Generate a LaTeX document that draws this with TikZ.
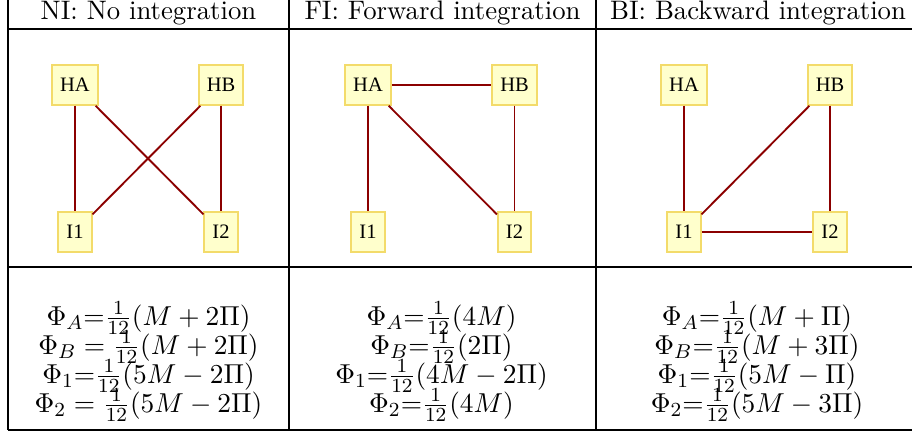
\documentclass[tikz,border=0pt]{standalone}
\usepackage{amsmath}
\usepackage{fontspec}
\newfontfamily\nodeserif{Liberation Serif}
\definecolor{nodefill}{HTML}{FFFFCC}
\definecolor{nodedraw}{HTML}{F3DB6A}
\definecolor{edgered}{HTML}{8B0000}
\newcommand{\hdrfont}{\fontsize{10.7}{12}\selectfont}
\newcommand{\frmfont}{\fontsize{11}{12}\selectfont}
\begin{document}
\begin{tikzpicture}[x=0.4pt,y=-0.4pt,
  rule/.style={line width=0.75pt,black},
  hdr/.style={anchor=base,inner sep=0pt,font=\hdrfont},
  frm/.style={anchor=base,inner sep=0pt,font=\frmfont},
  gnode/.style={draw=nodedraw,fill=nodefill,line width=0.8pt,
    font=\nodeserif\fontsize{8.2}{9}\selectfont,
    minimum height=15.8pt,inner xsep=3.2pt,inner ysep=0pt},
  edge/.style={draw=edgered,line width=0.75pt}]
\useasboundingbox (0,0) rectangle (912,432);
\clip (0,0) rectangle (912,432);
% table rules
\draw[rule] (8,0) -- (8,430);
\draw[rule] (289,0) -- (289,430);
\draw[rule] (596,0) -- (596,430);
\draw[rule] (920,0) -- (920,430);
\draw[rule] (8,29.3) -- (920,29.3);
\draw[rule] (8,266.7) -- (920,266.7);
\draw[rule] (8,430) -- (920,430);
% headers
\node[hdr] (h1) at (148.5,20) {NI: No integration};
\node[hdr] (h2) at (442.5,20) {FI: Forward integration};
\node[hdr] (h3) at (758,20) {BI: Backward integration};
% panel 1: NI
\node[gnode] (a1) at (75,85) {HA};
\node[gnode] (b1) at (221,85) {HB};
\node[gnode] (c1) at (75,232) {I1};
\node[gnode] (d1) at (221,232) {I2};
\draw[edge] (a1) -- (c1);
\draw[edge] (a1) -- (d1);
\draw[edge] (b1) -- (c1);
\draw[edge] (b1) -- (d1);
% panel 2: FI
\node[gnode] (a2) at (368,85) {HA};
\node[gnode] (b2) at (514.5,85) {HB};
\node[gnode] (c2) at (368,232) {I1};
\node[gnode] (d2) at (514.5,232) {I2};
\draw[edge] (a2) -- (b2);
\draw[edge] (a2) -- (c2);
\draw[edge] (a2) -- (d2);
\draw[edge] (b2) -- (d2);
% panel 3: BI
\node[gnode] (a3) at (684,85) {HA};
\node[gnode] (b3) at (830,85) {HB};
\node[gnode] (c3) at (684,232) {I1};
\node[gnode] (d3) at (830,232) {I2};
\draw[edge] (a3) -- (c3);
\draw[edge] (b3) -- (c3);
\draw[edge] (b3) -- (d3);
\draw[edge] (c3) -- (d3);
% formulas panel 1
\node[frm] (f1a) at (148.5,325) {$\Phi_A{=}\tfrac{1}{12}(M+2\Pi)$};
\node[frm] (f1b) at (148.5,354) {$\Phi_B = \tfrac{1}{12}(M+2\Pi)$};
\node[frm] (f1c) at (148.5,383) {$\Phi_1{=}\tfrac{1}{12}(5M-2\Pi)$};
\node[frm] (f1d) at (148.5,412) {$\Phi_2 = \tfrac{1}{12}(5M-2\Pi)$};
% formulas panel 2
\node[frm] (f2a) at (441.5,325) {$\Phi_A{=}\tfrac{1}{12}(4M)$};
\node[frm] (f2b) at (441.5,354) {$\Phi_B{=}\tfrac{1}{12}(2\Pi)$};
\node[frm] (f2c) at (441.5,383) {$\Phi_1{=}\tfrac{1}{12}(4M-2\Pi)$};
\node[frm] (f2d) at (441.5,412) {$\Phi_2{=}\tfrac{1}{12}(4M)$};
% formulas panel 3
\node[frm] (f3a) at (757,325) {$\Phi_A{=}\tfrac{1}{12}(M+\Pi)$};
\node[frm] (f3b) at (757,354) {$\Phi_B{=}\tfrac{1}{12}(M+3\Pi)$};
\node[frm] (f3c) at (757,383) {$\Phi_1{=}\tfrac{1}{12}(5M-\Pi)$};
\node[frm] (f3d) at (757,412) {$\Phi_2{=}\tfrac{1}{12}(5M-3\Pi)$};
\end{tikzpicture}
\end{document}
